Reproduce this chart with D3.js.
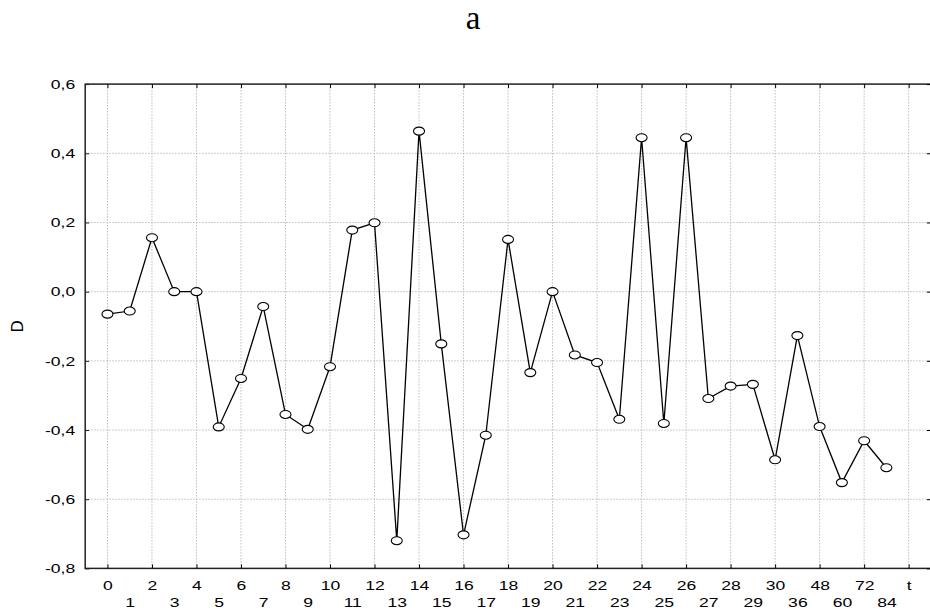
<!DOCTYPE html>
<html>
<head>
<meta charset="utf-8">
<script src="https://cdn.jsdelivr.net/npm/d3@7"></script>
<style>
  body { margin: 0; background: #fff; }
  svg { display: block; }
</style>
</head>
<body>
<svg id="chart" width="930" height="614"></svg>
<script>
// series: D against t (categories on the x axis, the last ones are not evenly spaced)
var tLabels = ["0", "1", "2", "3", "4", "5", "6", "7", "8", "9", "10",
    "11", "12", "13", "14", "15", "16", "17", "18", "19", "20",
    "21", "22", "23", "24", "25", "26", "27", "28", "29", "30",
    "36", "48", "60", "72", "84"];
var dValues = [-0.065, -0.056, 0.156, 0.0, 0.0, -0.391, -0.251, -0.043, -0.355, -0.398,
    -0.217, 0.178, 0.199, -0.72, 0.464, -0.151, -0.703, -0.415, 0.151, -0.234,
    0.0, -0.183, -0.205, -0.369, 0.445, -0.381, 0.445, -0.309, -0.273, -0.268,
    -0.486, -0.127, -0.39, -0.552, -0.431, -0.509];
var yTicks = [-0.8, -0.6, -0.4, -0.2, 0.0, 0.2, 0.4, 0.6];
var title = "a";
var xTitle = "t";
var yTitle = "D";

(function() {
    var svg = d3.select("#chart");
    var pLeft = 85.2, pRight = 930.9, pTop = 84.1, pBottom = 568.4;
    var n = tLabels.length;
    var sans = "'Liberation Sans', Arial, sans-serif";
    var stretch = 1.35; // the labels in the original are drawn wide

    var x = d3.scaleLinear().domain([-1, n + 1]).range([pLeft, pRight]);
    var y = d3.scaleLinear().domain([-0.8, 0.6]).range([pBottom, pTop]);

    function fmt(v) {
        return d3.format(".1f")(v).replace(".", ",").replace("\u2212", "-");
    }

    // grid
    var gridIdx = d3.range(0, n + 1, 2);
    svg.append("g").selectAll("line")
        .data(gridIdx)
        .enter().append("line")
        .attr("x1", d => x(d)).attr("x2", d => x(d))
        .attr("y1", pTop).attr("y2", pBottom)
        .attr("stroke", "#bcbcbc").attr("stroke-width", 1)
        .attr("stroke-dasharray", "1.5,1.5");
    svg.append("g").selectAll("line")
        .data(yTicks.slice(1, -1))
        .enter().append("line")
        .attr("x1", pLeft).attr("x2", pRight)
        .attr("y1", d => y(d)).attr("y2", d => y(d))
        .attr("stroke", "#bcbcbc").attr("stroke-width", 1)
        .attr("stroke-dasharray", "1.5,1.5");

    // frame
    svg.append("rect")
        .attr("x", pLeft).attr("y", pTop)
        .attr("width", pRight - pLeft).attr("height", pBottom - pTop)
        .attr("fill", "none").attr("stroke", "#222").attr("stroke-width", 1.5);

    // left axis, ticks inward
    var yAxis = svg.append("g")
        .attr("transform", "translate(" + pLeft + ",0)")
        .call(d3.axisLeft(y).tickValues(yTicks).tickFormat(fmt).tickSizeInner(-4).tickSizeOuter(0).tickPadding(10));
    yAxis.select(".domain").remove();
    yAxis.selectAll(".tick line").attr("stroke", "#222");
    yAxis.selectAll(".tick text")
        .attr("x", -10 / stretch)
        .attr("transform", "scale(" + stretch + ",1)")
        .style("font-family", sans).style("font-size", "13px").attr("fill", "#000");

    // right ticks
    var yAxisR = svg.append("g")
        .attr("transform", "translate(" + pRight + ",0)")
        .call(d3.axisRight(y).tickValues(yTicks).tickFormat("").tickSizeInner(-4).tickSizeOuter(0));
    yAxisR.select(".domain").remove();

    // top ticks
    var xAxisT = svg.append("g")
        .attr("transform", "translate(0," + pTop + ")")
        .call(d3.axisTop(x).tickValues(gridIdx).tickFormat("").tickSizeInner(-4).tickSizeOuter(0));
    xAxisT.select(".domain").remove();

    // bottom ticks (even positions) and two-row labels
    var xAxisB = svg.append("g")
        .attr("transform", "translate(0," + pBottom + ")")
        .call(d3.axisBottom(x).tickValues(gridIdx).tickFormat("").tickSizeInner(-4).tickSizeOuter(0));
    xAxisB.select(".domain").remove();

    var xLab = svg.append("g")
        .attr("transform", "translate(0," + pBottom + ")")
        .call(d3.axisBottom(x).tickValues(d3.range(0, n + 1))
            .tickFormat(i => i < n ? tLabels[i] : xTitle)
            .tickSize(0).tickPadding(0));
    xLab.select(".domain").remove();
    xLab.selectAll(".tick text")
        .attr("dy", null)
        .attr("y", i => i % 2 === 0 ? 22 : 39)
        .attr("transform", "scale(" + stretch + ",1)")
        .style("font-family", sans).style("font-size", "13px").attr("fill", "#000");

    // line and markers
    var pts = dValues.map((v, i) => [i, v]);
    svg.append("path")
        .datum(pts)
        .attr("fill", "none")
        .attr("stroke", "#000")
        .attr("stroke-width", 1.3)
        .attr("d", d3.line().x(d => x(d[0])).y(d => y(d[1])));

    svg.append("g").selectAll("ellipse")
        .data(pts)
        .enter().append("ellipse")
        .attr("cx", d => x(d[0]))
        .attr("cy", d => y(d[1]))
        .attr("rx", 5.5).attr("ry", 4)
        .attr("fill", "#fff")
        .attr("stroke", "#000")
        .attr("stroke-width", 1.1);

    // titles
    svg.append("text")
        .attr("x", 473).attr("y", 29)
        .attr("text-anchor", "middle")
        .style("font-family", "'Liberation Serif', 'Times New Roman', serif")
        .style("font-size", "33px")
        .text(title);

    svg.append("text")
        .attr("transform", "translate(23," + ((pTop + pBottom) / 2) + ") rotate(-90)")
        .attr("text-anchor", "middle")
        .style("font-family", sans)
        .style("font-size", "17px")
        .text(yTitle);
})();
</script>
</body>
</html>
